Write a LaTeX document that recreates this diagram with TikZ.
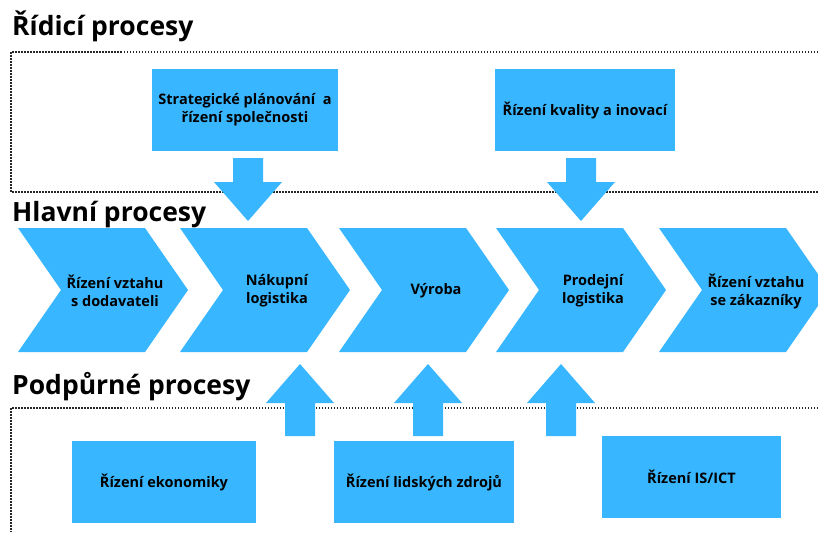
\documentclass[tikz,border=0pt]{standalone}
\usepackage{fontspec}
\setmainfont{Open Sans}
\definecolor{procblue}{HTML}{38B6FF}
\tikzset{
  procfill/.style={fill=procblue},
  proclabel/.style={font=\bfseries\fontsize{14.5}{18}\selectfont, align=center, text=black, inner sep=0pt},
  procbox/.style={fill=procblue, minimum height=82pt, inner sep=0pt,
    font=\bfseries\fontsize{14.5}{18}\selectfont, align=center, text=black},
  heading/.style={anchor=base west, inner sep=0pt, font=\bfseries\fontsize{26.5}{30}\selectfont},
  lanebound/.style={draw=black!85, line width=1.4pt, dash pattern=on 1.5pt off 1.5pt},
  chevron/.pic={\fill[procfill] (0,0) -- (127,0) -- (170,62) -- (127,124) -- (0,124) -- (43,62) -- cycle;},
  downarrow/.pic={\fill[procfill] (0,0) -- ++(-34,-39) -- ++(19,0) -- ++(0,-24) -- ++(30,0) -- ++(0,24) -- ++(19,0) -- cycle;},
  uparrow/.pic={\fill[procfill] (0,0) -- ++(-34,39) -- ++(19,0) -- ++(0,33) -- ++(30,0) -- ++(0,-33) -- ++(19,0) -- cycle;},
}
\begin{document}
\begin{tikzpicture}[x=1pt, y=-1pt]
  \clip (0,0) rectangle (818,532);
  \fill[white] (0,0) rectangle (818,532);

  % section borders
  \draw[lanebound] (818,52) -- (11,52) -- (11,192) -- (818,192);
  \draw[lanebound] (818,408) -- (11,408) -- (11,532);

  % headings
  \node[heading] (h1) at (12,36) {Řídicí procesy};
  \node[heading] (h2) at (12,221) {Hlavní procesy};
  \node[heading] (h3) at (12,394) {Podpůrné procesy};

  % management processes
  \node[procbox, minimum width=186pt] (s1) at (245,110) {Strategické plánování~ a\\řízení společnosti};
  \node[procbox, minimum width=180pt] (s2) at (585,110) {Řízení kvality a inovací};

  % main value chain
  \pic at (18,228) {chevron};
  \pic at (180,228) {chevron};
  \pic at (339,228) {chevron};
  \pic at (496,228) {chevron};
  \pic at (659,228) {chevron};
  \node[proclabel] (m1) at (115,291) {Řízení vztahu\\s dodavateli};
  \node[proclabel] (m2) at (277,291) {Nákupní\\logistika};
  \node[proclabel] (m3) at (436,291) {Výroba};
  \node[proclabel] (m4) at (593,291) {Prodejní\\logistika};
  \node[proclabel] (m5) at (756,291) {Řízení vztahu\\se zákazníky};

  % support processes
  \node[procbox, minimum width=184pt] (p1) at (164,482) {Řízení ekonomiky};
  \node[procbox, minimum width=180pt] (p2) at (424,482) {Řízení lidských zdrojů};
  \node[procbox, minimum width=179pt] (p3) at (691.5,477) {Řízení IS/ICT};

  % block arrows
  \coordinate (d1) at (248,221);
  \coordinate (d2) at (581,221);
  \coordinate (u1) at (300,364);
  \coordinate (u2) at (428,364);
  \coordinate (u3) at (561,364);
  \pic at (d1) {downarrow};
  \pic at (d2) {downarrow};
  \pic at (u1) {uparrow};
  \pic at (u2) {uparrow};
  \pic at (u3) {uparrow};
\end{tikzpicture}
\end{document}
